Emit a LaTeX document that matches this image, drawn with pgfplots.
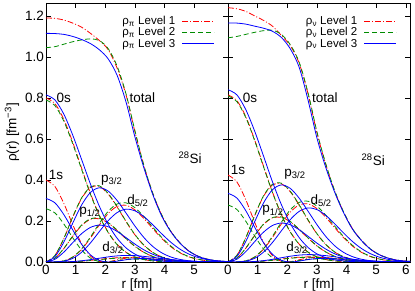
\documentclass[border=0pt]{standalone}
\usepackage{fontspec}
\setmainfont{Liberation Sans}
\usepackage{pgfplots}
\usepackage{pgfplotstable}
\pgfplotsset{compat=1.18}
\definecolor{gred}{RGB}{255,0,0}
\definecolor{ggreen}{RGB}{0,140,0}
\definecolor{gblue}{RGB}{0,0,255}

% columns: r total 0s 1s p3/2 p1/2 d5/2 d3/2
\pgfplotstableread{
r tot s0 s1 p3 p1 d5 d3
0.0 1.19 0.8 0.40 0 0 0 0
0.3 1.188 0.7726 0.3685 0.0312 0.0179 0.0004 0
0.6 1.18 0.6958 0.2862 0.1136 0.0651 0.0052 0.0003
0.9 1.165 0.5844 0.1827 0.2179 0.1248 0.0232 0.0015
1.2 1.145 0.4579 0.0903 0.3098 0.1774 0.0609 0.004
1.5 1.115 0.3345 0.0293 0.3633 0.2080 0.117 0.0079
1.8 1.08 0.2278 0.0030 0.3683 0.2109 0.1809 0.0127
2.1 1.035 0.1448 0.0014 0.3311 0.1896 0.2371 0.0172
2.4 0.945 0.0858 0.0102 0.2679 0.1534 0.2713 0.0206
2.7 0.815 0.0474 0.0185 0.1970 0.1128 0.2764 0.022
3.0 0.635 0.0245 0.0215 0.1327 0.0760 0.254 0.0213
3.3 0.47 0.0118 0.0194 0.0821 0.0470 0.2126 0.0189
3.6 0.335 0.0053 0.0145 0.0469 0.0269 0.1632 0.0155
3.9 0.23 0.0022 0.0096 0.0248 0.0142 0.1155 0.0118
4.2 0.152 0.0009 0.0054 0.0121 0.007 0.0757 0.0083
4.5 0.096 0.0003 0.0028 0.0055 0.0032 0.0461 0.0055
4.8 0.056 0 0.0013 0.0023 0.0013 0.0261 0.0034
5.1 0.03 0 0.0006 0.0009 0.0005 0.0138 0.002
5.4 0.015 0 0.0002 0.0003 0.0002 0.0068 0.0011
5.7 0.007 0 0 0.0001 0.0001 0.0032 0.0006
6.0 0.003 0 0 0 0 0.0014 0.0003
6.3 0.001 0 0 0 0 0.0006 0.0001
}\pLa
\pgfplotstableread{
r tot s0 s1 p3 p1 d5 d3
0.0 1.045 0.79 0.26 0 0 0 0
0.3 1.05 0.763 0.2395 0.0315 0.0181 0.0004 0
0.6 1.062 0.687 0.186 0.1146 0.066 0.0055 0.0003
0.9 1.074 0.577 0.1187 0.2197 0.1265 0.0242 0.0014
1.2 1.083 0.452 0.0587 0.3123 0.1799 0.0635 0.0037
1.5 1.088 0.330 0.019 0.3662 0.2109 0.122 0.0072
1.8 1.08 0.225 0.002 0.3713 0.2138 0.1887 0.0115
2.1 1.04 0.143 0.0009 0.3338 0.1922 0.2474 0.0157
2.4 0.955 0.0847 0.0066 0.2701 0.1556 0.283 0.0187
2.7 0.82 0.0468 0.012 0.1986 0.1144 0.2883 0.02
3.0 0.64 0.0242 0.014 0.1338 0.0771 0.2649 0.0194
3.3 0.472 0.0116 0.0126 0.0828 0.0477 0.2218 0.0172
3.6 0.336 0.0052 0.0094 0.0473 0.0272 0.1702 0.0141
3.9 0.23 0.0022 0.0062 0.025 0.0144 0.1205 0.0107
4.2 0.152 0.0009 0.0035 0.0122 0.0071 0.079 0.0076
4.5 0.096 0.0003 0.0018 0.0056 0.0032 0.0481 0.005
4.8 0.056 0 0.0008 0.0024 0.0014 0.0273 0.0031
5.1 0.03 0 0.0004 0.0009 0.0005 0.0144 0.0018
5.4 0.015 0 0.0001 0.0003 0.0002 0.0071 0.001
5.7 0.007 0 0 0.0001 0.0001 0.0033 0.0005
6.0 0.003 0 0 0 0 0.0015 0.0002
6.3 0.001 0 0 0 0 0.0006 0.0001
}\pLb
\pgfplotstableread{
r tot s0 s1 p3 p1 d5 d3
0.0 1.115 0.815 0.31 0 0 0 0
0.3 1.114 0.7906 0.2886 0.0261 0.013 0.0003 0
0.6 1.11 0.7213 0.2315 0.0963 0.0479 0.0039 0.0005
0.9 1.10 0.6194 0.1572 0.189 0.094 0.0176 0.0022
1.2 1.085 0.5004 0.0866 0.2776 0.138 0.0472 0.0059
1.5 1.065 0.3798 0.0349 0.3393 0.1687 0.0931 0.0115
1.8 1.035 0.2718 0.0074 0.3619 0.18 0.1485 0.0184
2.1 0.99 0.1828 0 0.3456 0.1718 0.2019 0.025
2.4 0.91 0.1157 0.004 0.2998 0.1491 0.2411 0.0299
2.7 0.78 0.0689 0.011 0.2387 0.1187 0.2577 0.032
3.0 0.61 0.0385 0.0157 0.1755 0.0873 0.2498 0.031
3.3 0.46 0.0203 0.0165 0.1198 0.0596 0.2219 0.0275
3.6 0.33 0.0101 0.0143 0.0761 0.0379 0.1818 0.0225
3.9 0.225 0.0047 0.0107 0.0452 0.0225 0.1381 0.0171
4.2 0.15 0.002 0.0069 0.0251 0.0125 0.0977 0.0121
4.5 0.095 0.0008 0.0041 0.0131 0.0065 0.0646 0.008
4.8 0.055 0.0003 0.0022 0.0064 0.0032 0.0399 0.005
5.1 0.03 0.0001 0.0011 0.0029 0.0015 0.0232 0.0029
5.4 0.015 0 0.0005 0.0013 0.0006 0.0127 0.0016
5.7 0.007 0 0.0002 0.0005 0.0003 0.0065 0.0008
6.0 0.003 0 0.0001 0.0002 0.0001 0.0032 0.0004
6.3 0.001 0 0 0.0001 0 0.0015 0.0002
}\pLc
\pgfplotstableread{
r tot s0 s1 p3 p1 d5 d3
0.0 1.24 0.815 0.424 0 0 0 0
0.3 1.235 0.787 0.3906 0.0323 0.0185 0.0004 0
0.6 1.222 0.709 0.3034 0.1176 0.0672 0.0054 0.0004
0.9 1.2 0.595 0.1936 0.2255 0.1289 0.0238 0.0017
1.2 1.178 0.4665 0.0957 0.3207 0.1832 0.0624 0.0046
1.5 1.15 0.3408 0.0311 0.376 0.2149 0.1199 0.009
1.8 1.105 0.2321 0.0032 0.3812 0.2178 0.1855 0.0144
2.1 1.055 0.1475 0.0015 0.3427 0.1958 0.2431 0.0196
2.4 0.97 0.0874 0.0108 0.2773 0.1584 0.2782 0.0234
2.7 0.82 0.0483 0.0196 0.2039 0.1165 0.2833 0.025
3.0 0.63 0.0249 0.0228 0.1374 0.0785 0.2604 0.0242
3.3 0.475 0.012 0.0205 0.085 0.0486 0.2179 0.0215
3.6 0.345 0.0054 0.0154 0.0485 0.0277 0.1673 0.0176
3.9 0.243 0.0023 0.0102 0.0257 0.0147 0.1184 0.0134
4.2 0.162 0.0009 0.0058 0.0126 0.0072 0.0776 0.0095
4.5 0.106 0.0003 0.003 0.0057 0.0033 0.0473 0.0063
4.8 0.064 0 0.0014 0.0024 0.0014 0.0268 0.0039
5.1 0.036 0 0.0006 0.001 0.0005 0.0142 0.0023
5.4 0.019 0 0.0002 0.0003 0.0002 0.007 0.0012
5.7 0.009 0 0 0.0001 0.0001 0.0032 0.0006
6.0 0.004 0 0 0 0 0.0014 0.0003
6.3 0.002 0 0 0 0 0.0006 0.0001
}\nLa
\pgfplotstableread{
r tot s0 s1 p3 p1 d5 d3
0.0 1.093 0.81 0.278 0 0 0 0
0.3 1.1 0.782 0.2561 0.0326 0.0186 0.0004 0
0.6 1.11 0.7045 0.1989 0.1185 0.0678 0.0056 0.0004
0.9 1.12 0.5917 0.127 0.2273 0.13 0.0249 0.0016
1.2 1.128 0.4636 0.0627 0.3232 0.1849 0.0653 0.0042
1.5 1.13 0.3387 0.0204 0.3789 0.2168 0.1254 0.0083
1.8 1.11 0.2307 0.0021 0.3841 0.2198 0.1939 0.0132
2.1 1.06 0.1466 0.001 0.3453 0.1976 0.2542 0.018
2.4 0.975 0.0868 0.0071 0.2794 0.1599 0.2908 0.0215
2.7 0.825 0.048 0.0129 0.2055 0.1176 0.2963 0.023
3.0 0.635 0.0248 0.015 0.1384 0.0792 0.2723 0.0223
3.3 0.478 0.0119 0.0135 0.0856 0.049 0.2279 0.0198
3.6 0.347 0.0053 0.0101 0.0489 0.028 0.1749 0.0162
3.9 0.244 0.0023 0.0067 0.0259 0.0148 0.1238 0.0123
4.2 0.162 0.0009 0.0038 0.0127 0.0072 0.0812 0.0087
4.5 0.106 0.0003 0.0019 0.0058 0.0033 0.0494 0.0058
4.8 0.064 0 0.0009 0.0024 0.0014 0.028 0.0036
5.1 0.036 0 0.0004 0.001 0.0005 0.0148 0.0021
5.4 0.019 0 0.0001 0.0003 0.0002 0.0073 0.0011
5.7 0.009 0 0 0.0001 0.0001 0.0034 0.0006
6.0 0.004 0 0 0 0 0.0015 0.0003
6.3 0.002 0 0 0 0 0.0006 0.0001
}\nLb
\pgfplotstableread{
r tot s0 s1 p3 p1 d5 d3
0.0 1.165 0.84 0.335 0 0 0 0
0.3 1.165 0.815 0.3119 0.0271 0.0137 0.0003 0
0.6 1.16 0.743 0.2502 0.1 0.0505 0.004 0.0005
0.9 1.15 0.638 0.1699 0.1963 0.0992 0.0181 0.0025
1.2 1.14 0.516 0.0936 0.2883 0.1457 0.0483 0.0066
1.5 1.125 0.391 0.0377 0.3524 0.1781 0.0952 0.013
1.8 1.095 0.28 0.008 0.3759 0.19 0.152 0.0207
2.1 1.04 0.1884 0 0.359 0.1814 0.2066 0.0282
2.4 0.95 0.1192 0.0043 0.3114 0.1574 0.2467 0.0336
2.7 0.79 0.071 0.0119 0.2479 0.1253 0.2637 0.036
3.0 0.605 0.0397 0.0169 0.1823 0.0921 0.2556 0.0349
3.3 0.46 0.0209 0.0178 0.1244 0.0629 0.2271 0.031
3.6 0.34 0.0104 0.0155 0.0791 0.04 0.186 0.0254
3.9 0.24 0.0049 0.0115 0.0469 0.0237 0.1413 0.0193
4.2 0.16 0.0021 0.0075 0.0261 0.0132 0.0999 0.0136
4.5 0.105 0.0008 0.0044 0.0136 0.0069 0.0661 0.009
4.8 0.063 0.0003 0.0024 0.0066 0.0034 0.0409 0.0056
5.1 0.036 0.0001 0.0012 0.003 0.0015 0.0238 0.0032
5.4 0.019 0 0.0005 0.0013 0.0007 0.013 0.0018
5.7 0.009 0 0.0002 0.0005 0.0003 0.0067 0.0009
6.0 0.004 0 0.0001 0.0002 0.0001 0.0032 0.0004
6.3 0.002 0 0 0.0001 0 0.0015 0.0002
}\nLc

\tikzset{
  lbl/.style={font=\fontsize{13.5}{14}\selectfont, inner sep=0pt},
  l1/.style={color=gred, line width=0.8pt, dash pattern=on 6pt off 2pt on 1pt off 2pt},
  l2/.style={color=ggreen, line width=0.8pt, dash pattern=on 5pt off 3pt},
  l3/.style={color=gblue, line width=0.8pt},
}
\pgfplotsset{
  panel/.style={
    scale only axis, width=182pt, height=259pt,
    xmin=0, xmax=6.14, ymin=0, ymax=1.263,
    ytick={0,0.2,0.4,0.6,0.8,1.0,1.2},
    tick align=inside, major tick length=5pt,
    tick style={black, line width=0.6pt},
    axis line style={black, line width=0.8pt},
    /pgf/number format/assume math mode=true,
    tick label style={font=\fontsize{13.5}{14}\selectfont},
    label style={font=\fontsize{13.5}{14}\selectfont},
    yticklabel style={inner sep=2pt, /pgf/number format/fixed, /pgf/number format/fixed zerofill, /pgf/number format/precision=1},
    xlabel style={at={(axis description cs:0.5,-0.088)}, anchor=center},
    legend style={at={(axis description cs:0.944,0.96)}, anchor=north east, draw=none, fill=none,
      font=\fontsize{11.5}{11.5}\selectfont, row sep=0.5pt, column sep=6pt, nodes={inner sep=0.5pt}},
    legend plot pos=right, legend cell align=right,
    legend image code/.code={\draw[##1] (0pt,0pt) -- (32pt,0pt);},
  }
}
\newcommand{\level}[2]{%
  \addplot[#2,smooth] table[x=r,y=tot]{#1};
  \addplot[#2,smooth,forget plot] table[x=r,y=s0]{#1};
  \addplot[#2,smooth,forget plot] table[x=r,y=s1]{#1};
  \addplot[#2,smooth,forget plot] table[x=r,y=p3]{#1};
  \addplot[#2,smooth,forget plot] table[x=r,y=p1]{#1};
  \addplot[#2,smooth,forget plot] table[x=r,y=d5]{#1};
  \addplot[#2,smooth,forget plot] table[x=r,y=d3]{#1};
}

\begin{document}
\begin{tikzpicture}
\useasboundingbox (-46pt,-29pt) rectangle (369pt,262pt);
\begin{axis}[panel, at={(0pt,0pt)}, anchor=south west,
  xtick={0,1,2,3,4,5},
  xlabel={r [fm]}, ylabel={ρ(r) [fm\textsuperscript{−3}]},
  ylabel style={at={(axis description cs:-0.187,0.5)}, anchor=center}]
\level{\pLa}{l1}
\level{\pLb}{l2}
\level{\pLc}{l3}
\legend{ρ\textsubscript{π} Level 1, ρ\textsubscript{π} Level 2, ρ\textsubscript{π} Level 3}
\node[lbl] at (axis cs:0.6,0.80) {0s};
\node[lbl] at (axis cs:3.25,0.80) {total};
\node[lbl] at (axis cs:0.34,0.424) {1s};
\node[lbl] at (axis cs:2.22,0.40) {p\textsubscript{3/2}};
\node[lbl] at (axis cs:3.1,0.30) {d\textsubscript{5/2}};
\node[lbl] at (axis cs:1.48,0.244) {p\textsubscript{1/2}};
\node[lbl] at (axis cs:2.26,0.068) {d\textsubscript{3/2}};
\node[lbl] at (axis cs:4.86,0.507) {\textsuperscript{28}Si};
\end{axis}
\begin{axis}[panel, at={(182pt,0pt)}, anchor=south west,
  xtick={0,1,2,3,4,5,6}, yticklabels={},
  xlabel={r [fm]}]
\level{\nLa}{l1}
\level{\nLb}{l2}
\level{\nLc}{l3}
\legend{ρ\textsubscript{ν} Level 1, ρ\textsubscript{ν} Level 2, ρ\textsubscript{ν} Level 3}
\node[lbl] at (axis cs:0.74,0.80) {0s};
\node[lbl] at (axis cs:3.27,0.80) {total};
\node[lbl] at (axis cs:0.34,0.45) {1s};
\node[lbl] at (axis cs:2.26,0.43) {p\textsubscript{3/2}};
\node[lbl] at (axis cs:3.14,0.30) {d\textsubscript{5/2}};
\node[lbl] at (axis cs:1.52,0.25) {p\textsubscript{1/2}};
\node[lbl] at (axis cs:2.33,0.068) {d\textsubscript{3/2}};
\node[lbl] at (axis cs:4.9,0.50) {\textsuperscript{28}Si};
\end{axis}
\end{tikzpicture}
\end{document}
